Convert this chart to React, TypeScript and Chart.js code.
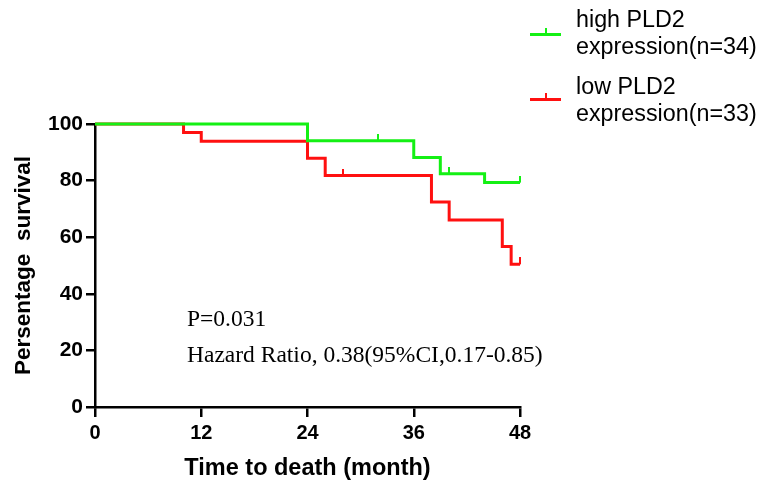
import React, { useEffect, useRef } from 'react';
import { Chart, registerables } from 'chart.js';

Chart.register(...registerables);

// ---- data ----
const xTickValues = [0, 12, 24, 36, 48];
const yTickValues = [0, 20, 40, 60, 80, 100];

const highTimes = [0, 24, 36, 39, 44, 48];
const highSurvival = [100, 94.1, 88.2, 82.4, 79.3, 79.3];
const highCensorTimes = [32, 40, 48];
const highCensorSurvival = [94.1, 82.4, 79.3];

const lowTimes = [0, 10, 12, 24, 26, 38, 40, 46, 47, 48];
const lowSurvival = [100, 97.0, 93.9, 87.9, 81.8, 72.4, 66.1, 56.7, 50.4, 50.4];
const lowCensorTimes = [28, 48];
const lowCensorSurvival = [81.8, 50.4];

const seriesNames = ['high PLD2 expression(n=34)', 'low PLD2 expression(n=33)'];
const legendLines = [
  ['high PLD2', 'expression(n=34)'],
  ['low PLD2', 'expression(n=33)'],
];
const annotationLines = ['P=0.031', 'Hazard Ratio, 0.38(95%CI,0.17-0.85)'];

const xTitle = 'Time to death (month)';
const yTitle = 'Persentage  survival';

const GREEN = '#14f014';
const RED = '#ff1010';
const SANS = "'Liberation Sans', Arial, Helvetica, sans-serif";
const SERIF = "'Liberation Serif', 'Times New Roman', serif";

function makeTick(color: string): HTMLCanvasElement {
  const c = document.createElement('canvas');
  c.width = 2;
  c.height = 14;
  const ctx = c.getContext('2d')!;
  ctx.fillStyle = color;
  ctx.fillRect(0, 0, 2, 7);
  return c;
}

function toPoints(xs: number[], ys: number[]) {
  return xs.map((x, i) => ({ x, y: ys[i] }));
}

export default function App() {
  const ref = useRef<HTMLCanvasElement | null>(null);

  useEffect(() => {
    if (!ref.current) return;
    const greenTick = makeTick(GREEN);
    const redTick = makeTick(RED);
    const chart = new Chart(ref.current, {
      type: 'line',
      data: {
        datasets: [
          {
            label: seriesNames[0],
            data: toPoints(highTimes, highSurvival),
            borderColor: GREEN,
            borderWidth: 3,
            stepped: 'before',
            pointRadius: 0,
            fill: false,
            clip: false as any,
          },
          {
            label: seriesNames[0] + ' censored',
            data: toPoints(highCensorTimes, highCensorSurvival),
            showLine: false,
            pointStyle: greenTick as any,
            pointRadius: 3,
            clip: false as any,
          },
          {
            label: seriesNames[1],
            data: toPoints(lowTimes, lowSurvival),
            borderColor: RED,
            borderWidth: 3,
            stepped: 'before',
            pointRadius: 0,
            fill: false,
            clip: false as any,
          },
          {
            label: seriesNames[1] + ' censored',
            data: toPoints(lowCensorTimes, lowCensorSurvival),
            showLine: false,
            pointStyle: redTick as any,
            pointRadius: 3,
            clip: false as any,
          },
        ],
      },
      options: {
        responsive: false,
        animation: false,
        devicePixelRatio: 1,
        layout: { padding: { left: 0, right: 240, top: 124, bottom: 0 } },
        plugins: { legend: { display: false }, tooltip: { enabled: false } },
        scales: {
          x: {
            type: 'linear',
            min: 0,
            max: 48,
            afterBuildTicks: (s: any) => {
              s.ticks = xTickValues.map((v) => ({ value: v }));
            },
            afterFit: (s: any) => {
              s.height = 76;
            },
            ticks: {
              color: '#000',
              font: { family: SANS, size: 20, weight: 'bold' },
              padding: 4,
              maxRotation: 0,
              autoSkip: false,
            },
            grid: {
              drawOnChartArea: false,
              drawTicks: true,
              tickLength: 10,
              color: '#000',
              lineWidth: 2.5,
            },
            border: { display: true, color: '#000', width: 2.5 },
            title: {
              display: true,
              text: xTitle,
              color: '#000',
              font: { family: SANS, size: 23.5, weight: 'bold' },
              padding: { top: 0, bottom: 0 },
            },
          },
          y: {
            type: 'linear',
            min: 0,
            max: 100,
            afterBuildTicks: (s: any) => {
              s.ticks = yTickValues.map((v) => ({ value: v }));
            },
            afterFit: (s: any) => {
              s.width = 95;
            },
            ticks: {
              color: '#000',
              font: { family: SANS, size: 21, weight: 'bold' },
              padding: 3,
              autoSkip: false,
            },
            grid: {
              drawOnChartArea: false,
              drawTicks: true,
              tickLength: 9,
              color: '#000',
              lineWidth: 2.5,
            },
            border: { display: true, color: '#000', width: 2.5 },
            title: {
              display: true,
              text: yTitle,
              color: '#000',
              font: { family: SANS, size: 22.5, weight: 'bold' },
              padding: { top: 10, bottom: 0 },
            },
          },
        },
      },
    });
    return () => chart.destroy();
  }, []);

  const colors = [GREEN, RED];
  const markerY = [34, 99];
  const textTop = [5.5, 72.5];

  return (
    <div style={{ position: 'fixed', left: 0, top: 0, width: 760, height: 483, background: '#fff', overflow: 'hidden' }}>
      <canvas ref={ref} width={760} height={483} style={{ position: 'absolute', left: 0, top: 0, width: 760, height: 483 }} />
      {legendLines.map((lines, i) => (
        <React.Fragment key={i}>
          <div style={{ position: 'absolute', left: 530, top: markerY[i] - 1.5, width: 31, height: 3, background: colors[i] }} />
          <div style={{ position: 'absolute', left: 544.5, top: markerY[i] - 6, width: 2, height: 6, background: colors[i] }} />
          <div
            style={{
              position: 'absolute',
              left: 576,
              top: textTop[i],
              fontFamily: SANS,
              fontSize: 23.3,
              lineHeight: '27px',
              color: '#000',
              whiteSpace: 'nowrap',
            }}
          >
            {lines.map((t, j) => (
              <div key={j}>{t}</div>
            ))}
          </div>
        </React.Fragment>
      ))}
      {annotationLines.map((t, i) => (
        <div
          key={i}
          style={{
            position: 'absolute',
            left: 187,
            top: 307.3 + i * 36,
            fontFamily: SERIF,
            fontSize: 23.5,
            lineHeight: '23.5px',
            color: '#000',
            whiteSpace: 'nowrap',
          }}
        >
          {t}
        </div>
      ))}
    </div>
  );
}
